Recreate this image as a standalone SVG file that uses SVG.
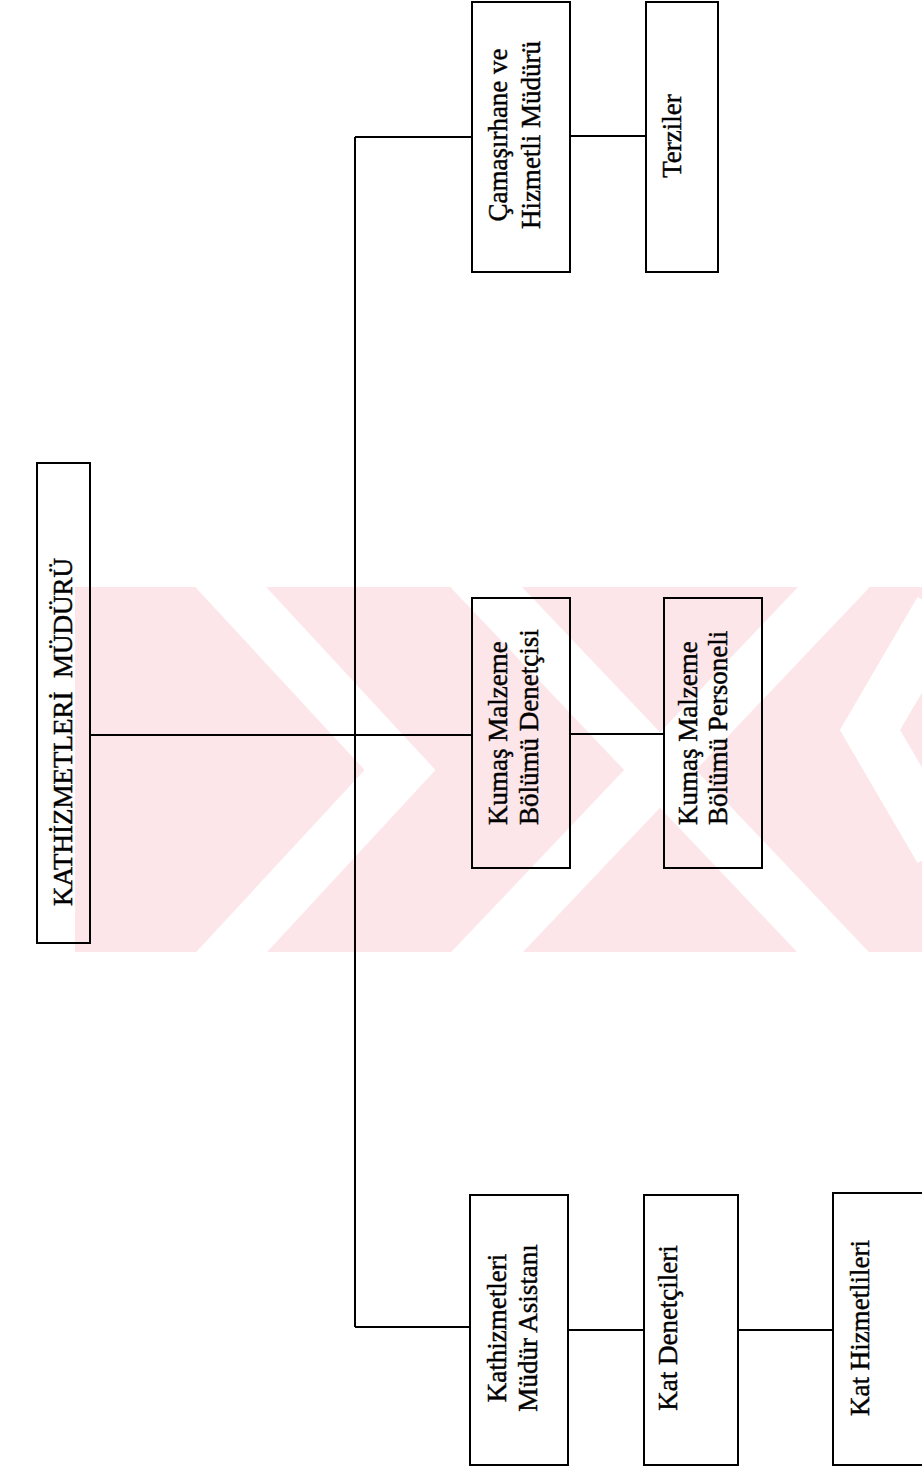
<svg xmlns="http://www.w3.org/2000/svg" width="922" height="1468" viewBox="0 0 922 1468">
<style>
.box{fill:none;stroke:#000;stroke-width:2}
.ln{fill:none;stroke:#000;stroke-width:2}
.t{font-family:"Liberation Serif","Times New Roman",serif;font-size:27px;fill:#000;stroke:#000;stroke-width:0.45}
.wm{fill:#fce6ea}
.ws{fill:none;stroke:#fff;stroke-width:52}
</style>
<rect x="0" y="0" width="922" height="1468" fill="#fff"/>
<g id="watermark">
<rect class="wm" x="75" y="587" width="847" height="365"/>
<clipPath id="band"><rect x="75" y="587" width="847" height="365"/></clipPath>
<g clip-path="url(#band)">
<polyline class="ws" points="215,570 400,770 215,970"/>
<line class="ws" x1="470" y1="570" x2="850" y2="970"/>
<line class="ws" x1="850" y1="570" x2="470" y2="970"/>
<polyline class="ws" points="940,610 870,730 940,850"/>
</g>
</g>
<g id="connectors">
<path class="ln" d="M90 735 H472"/>
<path class="ln" d="M355 137 V1327"/>
<path class="ln" d="M355 137 H472"/>
<path class="ln" d="M355 1327 H470"/>
<path class="ln" d="M570 136 H646"/>
<path class="ln" d="M570 734 H664"/>
<path class="ln" d="M568 1330 H644"/>
<path class="ln" d="M738 1330 H833"/>
</g>
<g id="root">
<rect class="box" x="37" y="463" width="53" height="480"/>
<text class="t" font-size="26" xml:space="preserve" text-anchor="middle" transform="translate(72,732) rotate(-90)">KATHİZMETLERİ  MÜDÜRÜ</text>
</g>
<g id="camasirhane">
<rect class="box" x="472" y="2" width="98" height="270"/>
<text class="t" text-anchor="middle" transform="translate(507,135) rotate(-90)">Çamaşırhane ve</text>
<text class="t" text-anchor="middle" transform="translate(540,135) rotate(-90)">Hizmetli Müdürü</text>
</g>
<g id="terziler">
<rect class="box" x="646" y="2" width="72" height="270"/>
<text class="t" text-anchor="middle" transform="translate(681,136) rotate(-90)">Terziler</text>
</g>
<g id="kumas-denetcisi">
<rect class="box" x="472" y="598" width="98" height="270"/>
<text class="t" text-anchor="start" transform="translate(507,825) rotate(-90)">Kumaş Malzeme</text>
<text class="t" text-anchor="start" transform="translate(538,825) rotate(-90)">Bölümü Denetçisi</text>
</g>
<g id="kumas-personeli">
<rect class="box" x="664" y="598" width="98" height="270"/>
<text class="t" text-anchor="start" transform="translate(697,825) rotate(-90)">Kumaş Malzeme</text>
<text class="t" text-anchor="start" transform="translate(727,825) rotate(-90)">Bölümü Personeli</text>
</g>
<g id="asistan">
<rect class="box" x="470" y="1195" width="98" height="270"/>
<text class="t" text-anchor="middle" transform="translate(506,1328) rotate(-90)">Kathizmetleri</text>
<text class="t" text-anchor="middle" transform="translate(537,1328) rotate(-90)">Müdür Asistanı</text>
</g>
<g id="kat-denetcileri">
<rect class="box" x="644" y="1195" width="94" height="270"/>
<text class="t" text-anchor="middle" transform="translate(677,1328) rotate(-90)">Kat Denetçileri</text>
</g>
<g id="kat-hizmetlileri">
<rect class="box" x="833" y="1193" width="100" height="272"/>
<text class="t" text-anchor="middle" transform="translate(869,1328) rotate(-90)">Kat Hizmetlileri</text>
</g>
</svg>
